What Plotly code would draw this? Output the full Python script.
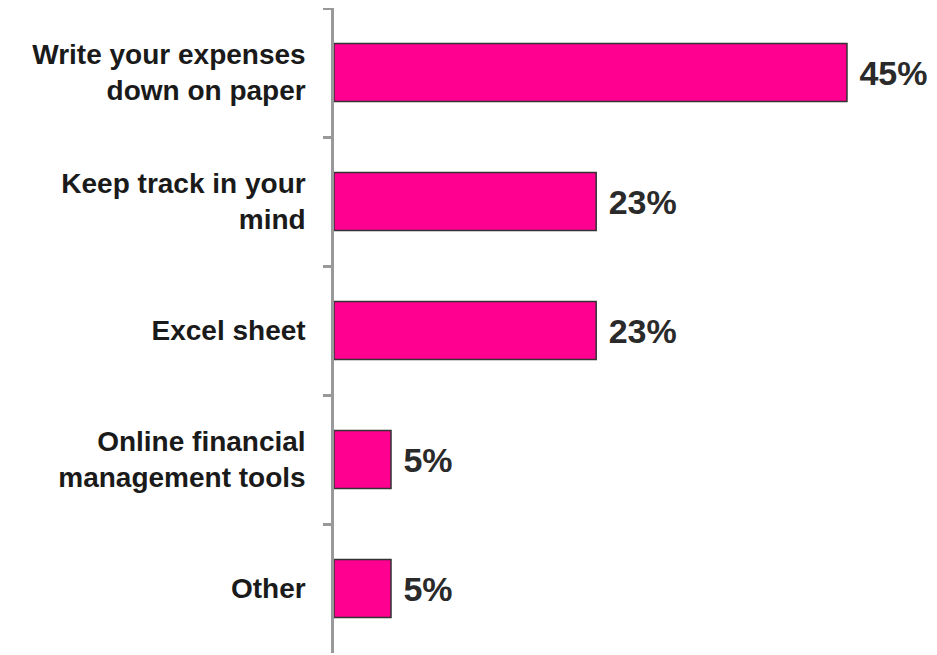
import plotly.graph_objects as go

categories = [
    "Write your expenses<br>down on paper",
    "Keep track in your<br>mind",
    "Excel sheet",
    "Online financial<br>management tools",
    "Other",
]
values = [45, 23, 23, 5, 5]
labels = ["45%", "23%", "23%", "5%", "5%"]

fig = go.Figure(go.Bar(
    x=values,
    y=categories,
    orientation="h",
    width=0.45,
    marker=dict(color="#FF0090", line=dict(color="#333333", width=1.5)),
    text=labels,
    texttemplate="\u00a0%{text}",
    textposition="outside",
    textfont=dict(family="Liberation Sans, Arial", size=34, color="#2a2a2a", weight="bold"),
    cliponaxis=False,
))

fig.update_layout(
    width=937, height=655,
    margin=dict(l=326, r=0, t=0, b=10, autoexpand=False),
    paper_bgcolor="white", plot_bgcolor="white",
    showlegend=False,
    font=dict(family="Liberation Sans, Arial", color="#1a1a1a"),
)
fig.update_xaxes(range=[0, 53.6], visible=False, automargin=False)
fig.update_yaxes(
    autorange="reversed",
    automargin=False,
    showline=True, linecolor="#999999", linewidth=2.5,
    ticks="outside", ticklen=8, tickcolor="#999999", tickwidth=2.5,
    tickson="boundaries",
    ticklabelstandoff=20,
    tickfont=dict(family="Liberation Sans, Arial", size=28, color="#1a1a1a", weight="bold"),
    showgrid=False,
)

fig.write_html("out.html")
